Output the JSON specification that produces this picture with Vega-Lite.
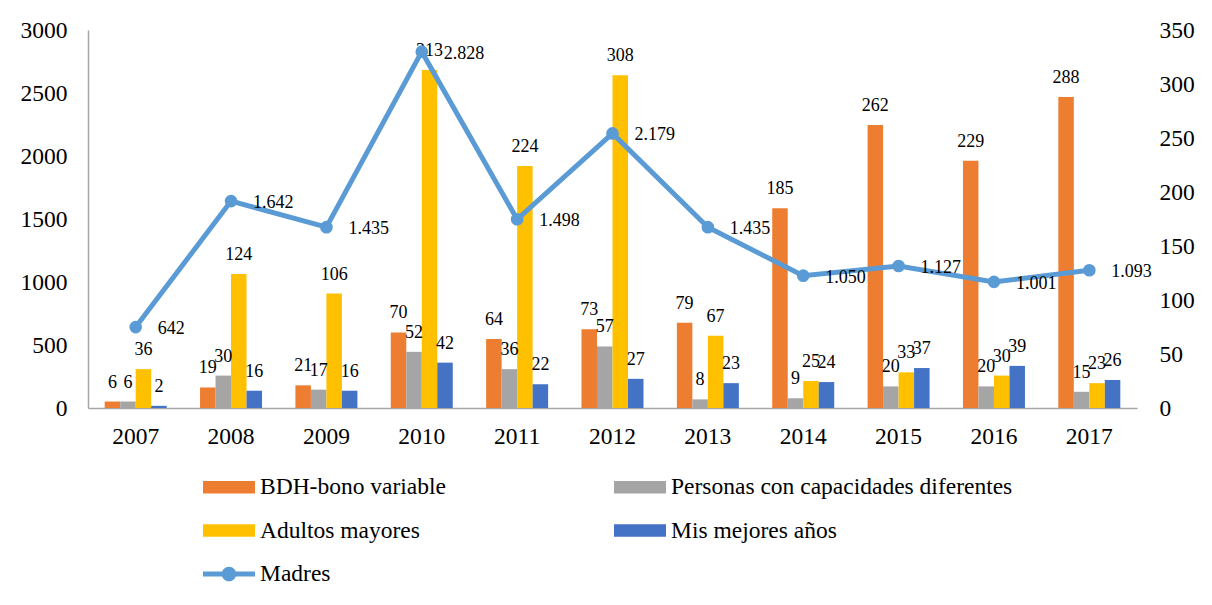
{
  "$schema": "https://vega.github.io/schema/vega-lite/v6.json",
  "width": 1049,
  "height": 378,
  "autosize": {"type": "none"},
  "padding": {"left": 88, "top": 30, "right": 75, "bottom": 197},
  "background": "white",
  "config": {
    "font": "Liberation Serif",
    "view": {"stroke": null},
    "locale": {"number": {"decimal": ",", "thousands": ".", "grouping": [3], "currency": ["$", ""]}},
    "axis": {"labelFont": "Liberation Serif", "labelFontSize": 23.5, "labelColor": "#000000", "ticks": false, "grid": false, "title": null, "domainColor": "#a6a6a6", "domainWidth": 1.5},
    "legend": {"labelFont": "Liberation Serif", "labelFontSize": 23.5, "labelColor": "#000000"}
  },
  "datasets": {
    "bars": [
      {"anio": "2007", "serie": "BDH-bono variable", "valor": 6},
      {"anio": "2007", "serie": "Personas con capacidades diferentes", "valor": 6},
      {"anio": "2007", "serie": "Adultos mayores", "valor": 36},
      {"anio": "2007", "serie": "Mis mejores años", "valor": 2},
      {"anio": "2008", "serie": "BDH-bono variable", "valor": 19},
      {"anio": "2008", "serie": "Personas con capacidades diferentes", "valor": 30},
      {"anio": "2008", "serie": "Adultos mayores", "valor": 124},
      {"anio": "2008", "serie": "Mis mejores años", "valor": 16},
      {"anio": "2009", "serie": "BDH-bono variable", "valor": 21},
      {"anio": "2009", "serie": "Personas con capacidades diferentes", "valor": 17},
      {"anio": "2009", "serie": "Adultos mayores", "valor": 106},
      {"anio": "2009", "serie": "Mis mejores años", "valor": 16},
      {"anio": "2010", "serie": "BDH-bono variable", "valor": 70},
      {"anio": "2010", "serie": "Personas con capacidades diferentes", "valor": 52},
      {"anio": "2010", "serie": "Adultos mayores", "valor": 313},
      {"anio": "2010", "serie": "Mis mejores años", "valor": 42},
      {"anio": "2011", "serie": "BDH-bono variable", "valor": 64},
      {"anio": "2011", "serie": "Personas con capacidades diferentes", "valor": 36},
      {"anio": "2011", "serie": "Adultos mayores", "valor": 224},
      {"anio": "2011", "serie": "Mis mejores años", "valor": 22},
      {"anio": "2012", "serie": "BDH-bono variable", "valor": 73},
      {"anio": "2012", "serie": "Personas con capacidades diferentes", "valor": 57},
      {"anio": "2012", "serie": "Adultos mayores", "valor": 308},
      {"anio": "2012", "serie": "Mis mejores años", "valor": 27},
      {"anio": "2013", "serie": "BDH-bono variable", "valor": 79},
      {"anio": "2013", "serie": "Personas con capacidades diferentes", "valor": 8},
      {"anio": "2013", "serie": "Adultos mayores", "valor": 67},
      {"anio": "2013", "serie": "Mis mejores años", "valor": 23},
      {"anio": "2014", "serie": "BDH-bono variable", "valor": 185},
      {"anio": "2014", "serie": "Personas con capacidades diferentes", "valor": 9},
      {"anio": "2014", "serie": "Adultos mayores", "valor": 25},
      {"anio": "2014", "serie": "Mis mejores años", "valor": 24},
      {"anio": "2015", "serie": "BDH-bono variable", "valor": 262},
      {"anio": "2015", "serie": "Personas con capacidades diferentes", "valor": 20},
      {"anio": "2015", "serie": "Adultos mayores", "valor": 33},
      {"anio": "2015", "serie": "Mis mejores años", "valor": 37},
      {"anio": "2016", "serie": "BDH-bono variable", "valor": 229},
      {"anio": "2016", "serie": "Personas con capacidades diferentes", "valor": 20},
      {"anio": "2016", "serie": "Adultos mayores", "valor": 30},
      {"anio": "2016", "serie": "Mis mejores años", "valor": 39},
      {"anio": "2017", "serie": "BDH-bono variable", "valor": 288},
      {"anio": "2017", "serie": "Personas con capacidades diferentes", "valor": 15},
      {"anio": "2017", "serie": "Adultos mayores", "valor": 23},
      {"anio": "2017", "serie": "Mis mejores años", "valor": 26}
    ],
    "madres": [
      {"anio": "2007", "valor": 642},
      {"anio": "2008", "valor": 1642},
      {"anio": "2009", "valor": 1435},
      {"anio": "2010", "valor": 2828},
      {"anio": "2011", "valor": 1498},
      {"anio": "2012", "valor": 2179},
      {"anio": "2013", "valor": 1435},
      {"anio": "2014", "valor": 1050},
      {"anio": "2015", "valor": 1127},
      {"anio": "2016", "valor": 1001},
      {"anio": "2017", "valor": 1093}
    ]
  },
  "layer": [
    {
      "data": {"name": "bars"},
      "encoding": {
        "x": {"field": "anio", "type": "ordinal", "scale": {"paddingInner": 0.35, "paddingOuter": 0.175}, "axis": {"labelAngle": 0, "labelPadding": 16}},
        "xOffset": {"field": "serie", "type": "nominal", "scale": {"domain": ["BDH-bono variable", "Personas con capacidades diferentes", "Adultos mayores", "Mis mejores años"], "paddingInner": 0, "paddingOuter": 0}},
        "y": {"field": "valor", "type": "quantitative", "scale": {"domain": [0, 350], "nice": false}, "axis": {"orient": "right", "domain": false, "values": [0, 50, 100, 150, 200, 250, 300, 350], "labelPadding": 22, "format": "d"}}
      },
      "layer": [
        {
          "mark": {"type": "bar"},
          "encoding": {
            "color": {
              "field": "serie", "type": "nominal",
              "scale": {"domain": ["BDH-bono variable", "Personas con capacidades diferentes", "Adultos mayores", "Mis mejores años", "Madres"], "range": ["#ED7D31", "#A5A5A5", "#FFC000", "#4472C4", "#5B9BD5"]},
              "legend": {
                "title": null, "orient": "none", "direction": "horizontal", "legendX": 115, "legendY": 431, "columns": 2, "columnPadding": 168, "rowPadding": 5.5,
                "labelFont": "Liberation Serif", "labelFontSize": 23.5, "labelColor": "#000000",
                "symbolType": "M-1,-0.24H1V0.24H-1Z", "symbolSize": 2704, "labelOffset": 5, "labelLimit": 600, "symbolStrokeWidth": 0,
                "encode": {
                  "symbols": {
                    "update": {
                      "shape": {"signal": "datum.value === 'Madres' ? 'M-1,-0.1H1V0.1H-1Z M0.28,0A0.28,0.28 0 1,1 -0.28,0A0.28,0.28 0 1,1 0.28,0Z' : 'M-1,-0.24H1V0.24H-1Z'"},
                      "fill": {"signal": "scale('color', datum.value)"},
                      "strokeWidth": {"value": 0},
                      "opacity": {"value": 1}
                    }
                  },
                  "labels": {
                    "update": {
                      "font": {"value": "Liberation Serif"},
                      "fontSize": {"value": 23.5}
                    }
                  }
                }
              }
            }
          }
        },
        {
          "mark": {"type": "text", "align": "center", "baseline": "bottom", "dy": -10, "fontSize": 18, "font": "Liberation Serif", "color": "#000000"},
          "encoding": {"text": {"field": "valor", "type": "quantitative", "format": "d"}}
        }
      ]
    },
    {
      "data": {"name": "madres"},
      "encoding": {
        "x": {"field": "anio", "type": "ordinal"},
        "y": {"field": "valor", "type": "quantitative", "scale": {"domain": [0, 3000], "nice": false}, "axis": {"orient": "left", "values": [0, 500, 1000, 1500, 2000, 2500, 3000], "labelPadding": 21, "format": "d"}}
      },
      "layer": [
        {
          "mark": {"type": "line", "strokeWidth": 5, "point": {"filled": true, "size": 160, "opacity": 1}},
          "encoding": {"color": {"datum": "Madres"}}
        },
        {
          "mark": {"type": "text", "align": "left", "baseline": "middle", "dx": 22, "dy": 2, "fontSize": 18, "font": "Liberation Serif", "color": "#000000"},
          "encoding": {"text": {"field": "valor", "type": "quantitative", "format": ",d"}}
        }
      ]
    }
  ],
  "resolve": {"scale": {"y": "independent"}}
}
